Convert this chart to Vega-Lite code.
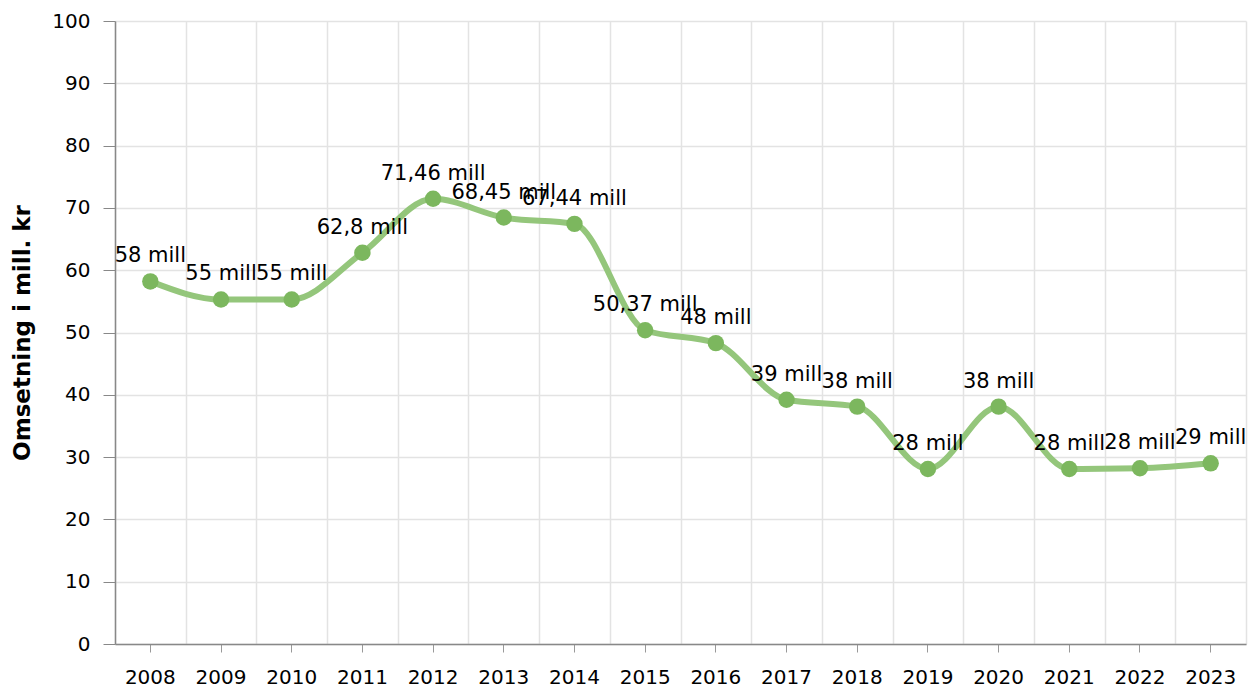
{
  "$schema": "https://vega.github.io/schema/vega-lite/v6.json",
  "width": 1131,
  "height": 623,
  "autosize": "none",
  "padding": {"left": 115, "top": 21, "right": 6, "bottom": 44},
  "background": "white",
  "config": {
    "view": {"stroke": null},
    "font": "DejaVu Sans",
    "axis": {"labelFont": "DejaVu Sans", "titleFont": "DejaVu Sans"}
  },
  "data": {
    "values": [
      {"year": "2008", "value": 58.2, "label": "58 mill"},
      {"year": "2009", "value": 55.3, "label": "55 mill"},
      {"year": "2010", "value": 55.3, "label": "55 mill"},
      {"year": "2011", "value": 62.8, "label": "62,8 mill"},
      {"year": "2012", "value": 71.46, "label": "71,46 mill"},
      {"year": "2013", "value": 68.45, "label": "68,45 mill"},
      {"year": "2014", "value": 67.44, "label": "67,44 mill"},
      {"year": "2015", "value": 50.37, "label": "50,37 mill"},
      {"year": "2016", "value": 48.3, "label": "48 mill"},
      {"year": "2017", "value": 39.2, "label": "39 mill"},
      {"year": "2018", "value": 38.1, "label": "38 mill"},
      {"year": "2019", "value": 28.1, "label": "28 mill"},
      {"year": "2020", "value": 38.1, "label": "38 mill"},
      {"year": "2021", "value": 28.1, "label": "28 mill"},
      {"year": "2022", "value": 28.2, "label": "28 mill"},
      {"year": "2023", "value": 29.0, "label": "29 mill"}
    ]
  },
  "encoding": {
    "x": {"field": "year", "type": "ordinal", "scale": {"type": "band", "paddingInner": 0, "paddingOuter": 0}},
    "y": {
      "field": "value", "type": "quantitative",
      "scale": {"domain": [0, 100], "nice": false},
      "axis": {
        "values": [0, 10, 20, 30, 40, 50, 60, 70, 80, 90, 100],
        "title": "Omsetning i mill. kr",
        "titleFontSize": 23,
        "titleFontWeight": "bold",
        "titleColor": "#000000",
        "titlePadding": 17,
        "labelFontSize": 20,
        "labelColor": "#000000",
        "labelPadding": 13,
        "tickSize": 12,
        "tickColor": "#888888",
        "domainColor": "#888888",
        "domainWidth": 1.5,
        "gridColor": "#e3e3e3",
        "gridWidth": 1.5
      }
    }
  },
  "layer": [
    {
      "mark": {"type": "line", "interpolate": "monotone", "strokeWidth": 6, "color": "#94c67b"},
      "encoding": {
        "x": {"field": "year", "type": "ordinal", "axis": {
          "grid": true, "tickBand": "extent", "ticks": false, "labels": false, "domain": false, "title": null,
          "gridColor": "#e3e3e3", "gridWidth": 1.5
        }}
      }
    },
    {
      "mark": {"type": "point", "filled": true, "opacity": 1, "size": 270, "color": "#7cb75e"},
      "encoding": {
        "x": {"field": "year", "type": "ordinal", "axis": {
          "grid": false, "ticks": true, "tickSize": 8, "tickColor": "#999999", "labels": true, "labelAngle": 0,
          "labelFontSize": 20, "labelColor": "#000000", "labelPadding": 15, "domain": true, "domainColor": "#888888", "domainWidth": 1.5, "title": null, "orient": "bottom"
        }}
      }
    },
    {
      "mark": {"type": "text", "fontSize": 21, "color": "#000000", "baseline": "alphabetic", "dy": -19, "align": "center"},
      "encoding": {
        "x": {"field": "year", "type": "ordinal", "axis": null},
        "text": {"field": "label"}
      }
    }
  ],
  "resolve": {"axis": {"x": "independent"}}
}
